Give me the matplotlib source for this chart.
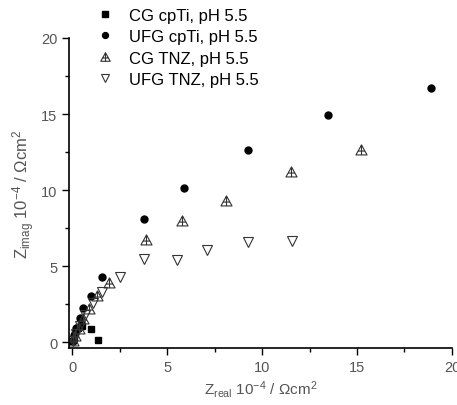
import numpy as np
import matplotlib.pyplot as plt
from matplotlib.path import Path

plt.rcParams['font.family'] = ['Liberation Sans', 'DejaVu Sans']
plt.rcParams['mathtext.default'] = 'regular'

# data (values in 10^4 Ohm cm^2)
cg_cpti_x = [0.02, 0.08, 0.18, 0.3, 0.45, 0.55, 1.0, 1.37]
cg_cpti_y = [0.05, 0.3, 0.6, 0.9, 1.2, 1.05, 0.85, 0.13]

ufg_cpti_x = [0.03, 0.1, 0.22, 0.42, 0.6, 1.0, 1.58, 3.8, 5.9, 9.25, 13.5, 18.9]
ufg_cpti_y = [0.1, 0.45, 0.95, 1.6, 2.25, 3.05, 4.25, 8.1, 10.15, 12.6, 14.95, 16.7]

cg_tnz_x = [0.05, 0.15, 0.35, 0.6, 0.9, 1.3, 1.95, 3.9, 5.8, 8.1, 11.5, 15.2]
cg_tnz_y = [0.1, 0.4, 0.85, 1.5, 2.2, 3.0, 3.9, 6.7, 7.95, 9.3, 11.2, 12.6]

ufg_tnz_x = [0.05, 0.2, 0.4, 0.7, 1.1, 1.6, 2.5, 3.8, 5.5, 7.1, 9.25, 11.6]
ufg_tnz_y = [0.1, 0.5, 1.05, 1.8, 2.6, 3.3, 4.3, 5.45, 5.4, 6.05, 6.6, 6.65]

labels = ['CG cpTi, pH 5.5', 'UFG cpTi, pH 5.5', 'CG TNZ, pH 5.5', 'UFG TNZ, pH 5.5']

# triangle with a cross inside
tri_cross = Path(
    [(-1, -0.8), (0, 1), (1, -0.8), (-1, -0.8), (-0.55, -0.1), (0.55, -0.1), (0, 1), (0, -0.8)],
    [Path.MOVETO, Path.LINETO, Path.LINETO, Path.CLOSEPOLY, Path.MOVETO, Path.LINETO, Path.MOVETO, Path.LINETO])

fig = plt.figure(figsize=(4.57, 4.06), dpi=100)
ax = fig.add_axes([0.151, 0.140, 0.838, 0.764])

ax.plot(cg_cpti_x, cg_cpti_y, ls='none', marker='s', ms=4.5, color='black', label=labels[0])
ax.plot(ufg_cpti_x, ufg_cpti_y, ls='none', marker='o', ms=5, color='black', label=labels[1])
ax.plot(cg_tnz_x, cg_tnz_y, ls='none', marker=tri_cross, ms=8, mfc='none', mec='#333333', mew=0.8,
        label=labels[2])
ax.plot(ufg_tnz_x, ufg_tnz_y, ls='none', marker='v', ms=7, mfc='none', mec='#333333', mew=0.8,
        label=labels[3])

ax.set_xlim(-0.16, 20)
ax.set_ylim(-0.4, 20)
ax.set_xticks([0, 5, 10, 15, 20])
ax.set_yticks([0, 5, 10, 15, 20])
ax.set_xticks([2.5, 7.5, 12.5, 17.5], minor=True)
ax.set_yticks([2.5, 7.5, 12.5, 17.5], minor=True)
ax.tick_params(which='major', length=5, width=1, colors='black', labelcolor='#555555', labelsize=10.5)
ax.tick_params(which='minor', length=3, width=1, colors='black')
for s in ['top', 'right']:
    ax.spines[s].set_visible(False)
for s in ['left', 'bottom']:
    ax.spines[s].set_linewidth(1.2)

ax.set_xlabel(r'Z$_{real}$ 10$^{-4}$ / $\Omega$cm$^2$', color='#555555', fontsize=11, labelpad=3)
ax.set_ylabel(r'Z$_{imag}$ 10$^{-4}$ / $\Omega$cm$^2$', color='#555555', fontsize=12, labelpad=3)

leg = ax.legend(loc='upper left', bbox_to_anchor=(0.03, 1.145), frameon=False, fontsize=12,
                handletextpad=0.8, labelspacing=0.38, handlelength=1.2, markerscale=0.85)

fig.savefig('out.png', dpi=100)
